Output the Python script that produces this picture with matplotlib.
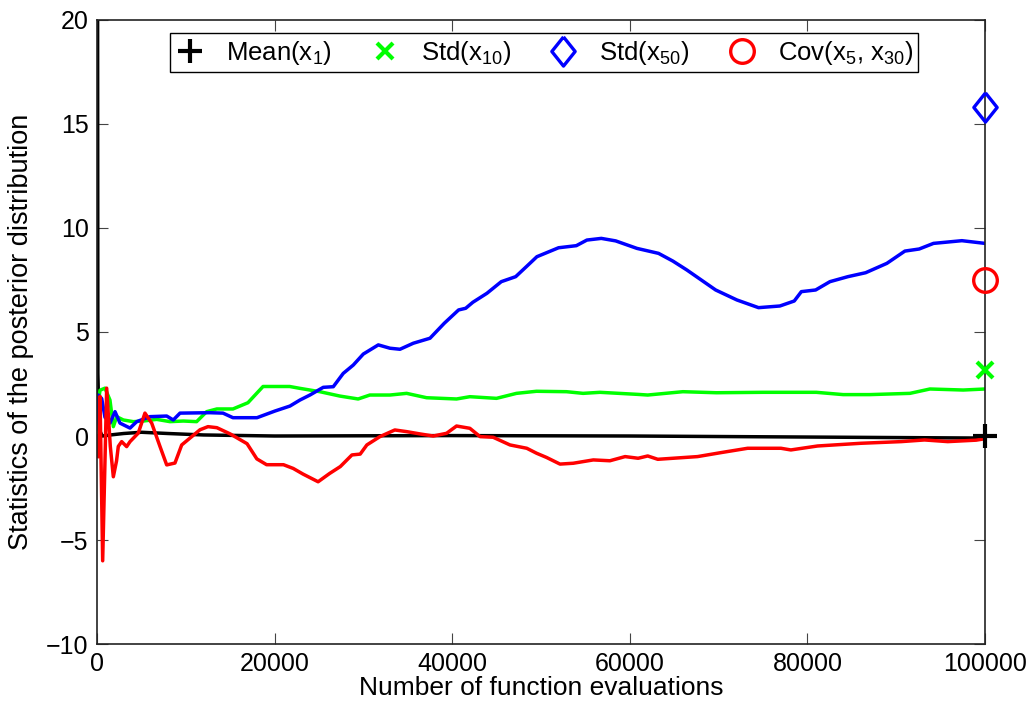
import matplotlib
matplotlib.use("Agg")
import matplotlib.pyplot as plt
import numpy as np

plt.rcParams['font.family'] = ['Liberation Sans', 'DejaVu Sans']
plt.rcParams['mathtext.fontset'] = 'custom'
plt.rcParams['mathtext.rm'] = 'Liberation Sans'
plt.rcParams['mathtext.it'] = 'Liberation Sans:italic'
plt.rcParams['mathtext.default'] = 'regular'

# ---- data ----
mean_x = [0, 100, 250, 600, 1500, 3000, 5000, 8000, 12000, 20000, 40000, 60000, 80000, 100000]
mean_y = [60, 3, 0.3, 0.0, 0.05, 0.12, 0.18, 0.12, 0.05, 0.0, 0.02, 0.0, -0.05, -0.1]

std10_x = [0, 340, 900, 1460, 1840, 2220, 2970, 4090, 5220, 6720, 8220, 9720, 11220, 12350,
           13500, 15310, 17000, 18700, 21700, 22860, 25100, 27350, 29410, 30730, 32990, 34870,
           37120, 40490, 41990, 44990, 47240, 49490, 52870, 54740, 56640, 60940, 62020, 65980,
           69740, 75000, 81000, 84030, 87030, 91550, 93800, 97550, 100000]
std10_y = [1.17, 2.2, 2.3, 1.73, 0.45, 0.93, 0.77, 0.69, 0.72, 0.8, 0.69, 0.72, 0.69, 1.17,
           1.3, 1.3, 1.6, 2.38, 2.38, 2.29, 2.13, 1.92, 1.78, 1.97, 1.97, 2.05,
           1.84, 1.78, 1.89, 1.81, 2.05, 2.15, 2.13, 2.05, 2.1, 2.0, 1.97, 2.13,
           2.08, 2.1, 2.1, 1.99, 1.99, 2.05, 2.26, 2.21, 2.26]

std50_x = [0, 150, 530, 900, 1460, 2030, 2590, 3720, 4470, 5970, 7850, 8590, 9350, 12720,
           14190, 15310, 18020, 20040, 21730, 22860, 23980, 25480, 26610, 27730, 28860, 29990,
           31680, 32990, 34120, 35620, 37500, 39110, 40720, 41520, 42330, 43910, 45530, 47150,
           48350, 49540, 51980, 53980, 55170, 56790, 58410, 60800, 63240, 64850, 66430, 69670,
           72060, 74500, 76900, 78520, 79320, 80930, 82540, 84560, 86560, 88950, 90980, 92590,
           94200, 97400, 100000]
std50_y = [0.62, 1.97, 1.8, 0.9, 0.62, 1.17, 0.62, 0.38, 0.69, 0.93, 0.96, 0.77, 1.1, 1.12,
           1.1, 0.88, 0.88, 1.2, 1.44, 1.73, 1.97, 2.34, 2.37, 3.01, 3.41, 3.94,
           4.38, 4.22, 4.17, 4.46, 4.7, 5.42, 6.06, 6.14, 6.43, 6.86, 7.42, 7.66,
           8.14, 8.62, 9.05, 9.15, 9.42, 9.5, 9.38, 9.02, 8.78, 8.41, 7.98, 7.02,
           6.54, 6.17, 6.25, 6.49, 6.94, 7.02, 7.42, 7.66, 7.85, 8.3, 8.89, 8.99,
           9.26, 9.39, 9.26]

cov_x = [0, 150, 340, 640, 1090, 1500, 1840, 2200, 2400, 2780, 3340, 3720, 4650, 5400, 6160,
         7100, 7850, 8780, 9540, 10470, 11600, 12500, 13500, 15000, 16900, 18000, 19100, 21000,
         22100, 23200, 24900, 26200, 27400, 28710, 29640, 30390, 31860, 33540, 34870, 36370,
         37870, 39370, 40490, 41990, 43140, 44610, 46510, 48400, 49510, 50620, 52140, 53630,
         55890, 57760, 59470, 60940, 62020, 63150, 67630, 70250, 73270, 77020, 78140, 81150,
         86020, 90560, 93190, 95810, 99000, 100000]
cov_y = [0.0, -1.0, 1.9, -6.0, 2.3, -0.5, -1.96, -1.2, -0.5, -0.27, -0.51, -0.27, 0.14, 1.1, 0.62,
         -0.51, -1.39, -1.3, -0.43, -0.1, 0.3, 0.45, 0.4, 0.1, -0.37, -1.1, -1.38, -1.38,
         -1.56, -1.83, -2.2, -1.8, -1.47, -0.91, -0.87, -0.43, -0.03, 0.29, 0.21, 0.1,
         0.0, 0.13, 0.48, 0.37, -0.03, -0.06, -0.43, -0.59, -0.83, -1.03, -1.35, -1.31,
         -1.15, -1.19, -0.99, -1.07, -0.96, -1.12, -0.99, -0.8, -0.59, -0.59, -0.67, -0.48,
         -0.35, -0.27, -0.19, -0.27, -0.2, -0.13]

final_x = 100000
final_mean = 0.0
final_std10 = 3.17
final_std50 = 15.83
final_cov = 7.5

labels = ['Mean(x$_1$)', 'Std(x$_{10}$)', 'Std(x$_{50}$)', 'Cov(x$_5$, x$_{30}$)']
xticks = [0, 20000, 40000, 60000, 80000, 100000]
yticks = [-10, -5, 0, 5, 10, 15, 20]

# ---- figure ----
fig = plt.figure(figsize=(10.34, 7.06), dpi=100)
ax = fig.add_axes([0.0938, 0.0878, 0.8588, 0.8839])

lw = 2.5
ax.plot(mean_x, mean_y, color='black', lw=lw, zorder=2)
ax.plot(std10_x, std10_y, color=(0, 1, 0), lw=lw, zorder=2)
ax.plot(std50_x, std50_y, color=(0, 0, 1), lw=lw, zorder=2)
ax.plot(cov_x, cov_y, color=(1, 0, 0), lw=lw, zorder=2)

diamond = [(0, 1), (0.8, 0), (0, -1), (-0.8, 0), (0, 1)]
h1, = ax.plot([final_x], [final_mean], linestyle='none', marker='+', ms=17, mew=3,
              color='black', clip_on=False, zorder=5, label=labels[0])
h2, = ax.plot([final_x], [final_std10], linestyle='none', marker='x', ms=12, mew=3,
              color=(0, 1, 0), clip_on=False, zorder=5, label=labels[1])
h3, = ax.plot([final_x], [final_std50], linestyle='none', marker=diamond, ms=21, mew=2.4,
              mfc='none', mec=(0, 0, 1), clip_on=False, zorder=5, label=labels[2])
h4, = ax.plot([final_x], [final_cov], linestyle='none', marker='o', ms=17, mew=2.4,
              mfc='none', mec=(1, 0, 0), clip_on=False, zorder=5, label=labels[3])

ax.set_xlim(0, 100000)
ax.set_ylim(-10, 20)
ax.set_xticks(xticks)
ax.set_xticklabels([str(t) for t in xticks])
ax.set_yticks(yticks)
ax.set_yticklabels([str(t).replace('-', '\u2212') for t in yticks])
ax.tick_params(direction='in', length=8, width=0.8, top=True, right=True,
               labelsize=18, pad=6, color='#444444')
for s in ax.spines.values():
    s.set_linewidth(1.2)
    s.set_color('#222222')

ax.set_xlabel('Number of function evaluations', fontsize=19, labelpad=0)
ax.set_ylabel('Statistics of the posterior distribution', fontsize=19.5, labelpad=9)

leg = ax.legend(handles=[h1, h2, h3, h4], loc='lower left',
                bbox_to_anchor=(0.082, 0.917, 0.843, 0.069), mode='expand',
                ncol=4, frameon=True, fancybox=False, framealpha=1, edgecolor='black',
                fontsize=18.5, handlelength=1.2, handletextpad=0.8, borderpad=0.2,
                borderaxespad=0, columnspacing=1.0)
leg.get_frame().set_linewidth(1.0)

fig.savefig('out.png', dpi=100)
